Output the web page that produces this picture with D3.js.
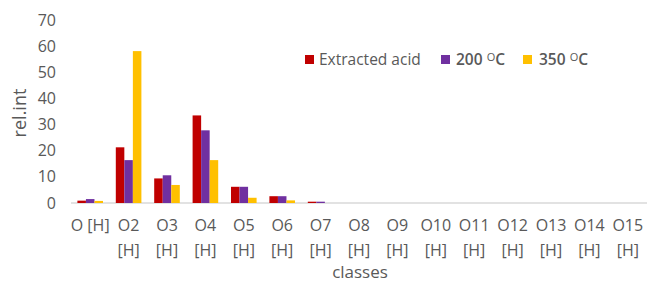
<!DOCTYPE html>
<html><head><meta charset="utf-8">
<script src="https://cdn.jsdelivr.net/npm/d3@7"></script>
<style>body{margin:0;background:#fff}svg{display:block}text{font-family:"Open Sans",sans-serif;fill:#595959}</style>
</head><body><svg id="c" width="648" height="287"></svg>
<script>
const categories = ["O [H]","O2 [H]","O3 [H]","O4 [H]","O5 [H]","O6 [H]","O7 [H]","O8 [H]","O9 [H]","O10 [H]","O11 [H]","O12 [H]","O13 [H]","O14 [H]","O15 [H]"];
const seriesNames = ["Extracted acid","200 \u1D3C C","350 \u1D3C C"];
const extractedAcid = [0.9,21.3,9.4,33.5,6.2,2.6,0.5,0,0,0,0,0,0,0,0];
const t200 = [1.5,16.4,10.6,27.8,6.2,2.6,0.5,0,0,0,0,0,0,0,0];
const t350 = [0.8,58.1,6.9,16.4,2.0,1.0,0,0,0,0,0,0,0,0,0];
const yTicks = [0,10,20,30,40,50,60,70];
const colors = ["#C00000","#7030A0","#FFC000"];

const svg = d3.select("#c");
const series = [extractedAcid,t200,t350];
const x = d3.scaleBand().domain(categories).range([71,647]).paddingInner(0).paddingOuter(0);
const x1 = d3.scaleBand().domain([0,1,2]).range([0,x.bandwidth()]).paddingOuter(0.75).paddingInner(0);
const y = d3.scaleLinear().domain([0,70]).range([203,20]);

// y tick labels
svg.append("g").selectAll("text").data(yTicks).join("text")
  .attr("x",56).attr("y",d=>y(d)).attr("dy","0.35em").attr("text-anchor","end")
  .style("font-size","16px").text(d=>d);

// axis line
svg.append("line").attr("x1",71).attr("x2",647).attr("y1",y(0)).attr("y2",y(0))
  .attr("stroke","#d9d9d9").attr("stroke-width",1.5);

// bars
const g = svg.append("g");
categories.forEach((c,i)=>{
  series.forEach((s,j)=>{
    if(s[i]<=0) return;
    g.append("rect").attr("x",x(c)+x1(j)).attr("width",x1.bandwidth())
      .attr("y",y(s[i])).attr("height",y(0)-y(s[i])).attr("fill",colors[j]);
  });
});

// category labels
const cl = svg.append("g");
categories.forEach(c=>{
  const cx = x(c)+x.bandwidth()/2;
  const parts = c==="O [H]" ? [c] : c.split(" ");
  parts.forEach((p,k)=>{
    cl.append("text").attr("x",cx).attr("y",231+k*25).attr("text-anchor","middle")
      .style("font-size","16px").text(p);
  });
});

// axis titles
svg.append("text").attr("transform","translate(26,113) rotate(-90)").attr("text-anchor","middle")
  .style("font-size","18px").text("rel.int");
svg.append("text").attr("x",360).attr("y",278).attr("text-anchor","middle")
  .style("font-size","17px").text("classes");

// legend
const leg = [{x:305,tx:319},{x:441,tx:456},{x:523,tx:539}];
leg.forEach((l,j)=>{
  svg.append("rect").attr("x",l.x).attr("y",55).attr("width",9).attr("height",9).attr("fill",colors[j]);
  const t = svg.append("text").attr("x",l.tx).attr("y",65).style("font-size","15.5px");
  if(j===0){ t.text("Extracted acid"); }
  else {
    t.style("font-weight","600");
    t.append("tspan").text(j===1?"200 ":"350 ");
    t.append("tspan").attr("dy","-4").style("font-size","11px").style("font-weight","normal").text("O");
    t.append("tspan").attr("dy","4").text("C");
  }
});
</script></body></html>
